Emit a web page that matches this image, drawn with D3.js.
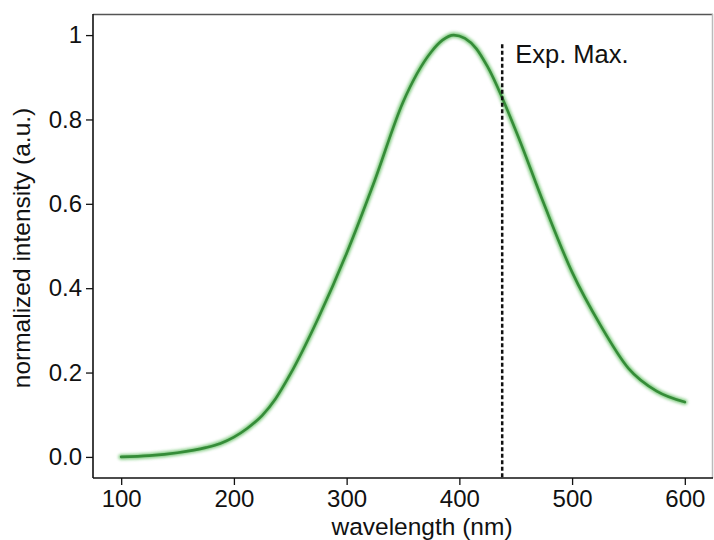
<!DOCTYPE html>
<html>
<head>
<meta charset="utf-8">
<script src="https://cdn.jsdelivr.net/npm/d3@7"></script>
<style>
  body { margin: 0; background: #fff; }
  text { font-family: "Liberation Sans", Arial, Helvetica, sans-serif; fill: #111; }
</style>
</head>
<body>
<div id="chart"></div>
<script>
// values
const wavelength = [100, 125, 150, 175, 188, 200, 212, 225, 237, 250, 275, 300, 325, 350, 375, 385, 395, 405, 415, 425, 450, 475, 500, 525, 550, 575, 600];
const intensity  = [0.000, 0.003, 0.010, 0.022, 0.032, 0.047, 0.068, 0.098, 0.138, 0.196, 0.330, 0.483, 0.656, 0.841, 0.960, 0.988, 1.000, 0.992, 0.968, 0.925, 0.774, 0.600, 0.438, 0.313, 0.210, 0.156, 0.130];
const xTicks = [100, 200, 300, 400, 500, 600];
const yTicks = [0, 0.2, 0.4, 0.6, 0.8, 1];
const yTickLabels = ['0.0', '0.2', '0.4', '0.6', '0.8', '1'];
const expMax = 438;

const W = 714, H = 540;
const margin = { top: 14, right: 1, bottom: 62, left: 93 };
const width = W - margin.left - margin.right;
const height = H - margin.top - margin.bottom;

const svg = d3.select('#chart')
  .append('svg')
  .attr('width', W)
  .attr('height', H);

const defs = svg.append('defs');
defs.append('filter')
  .attr('id', 'glow')
  .attr('x', '-10%').attr('y', '-10%')
  .attr('width', '120%').attr('height', '120%')
  .append('feGaussianBlur')
  .attr('stdDeviation', 1.6);

const g = svg.append('g')
  .attr('transform', 'translate(' + margin.left + ',' + margin.top + ')');

const x = d3.scaleLinear().domain([75, 625]).range([0, width]);
const y = d3.scaleLinear().domain([-0.05, 1.05]).range([height, 0]);

const data = wavelength.map((w, i) => ({ w: w, v: intensity[i] }));

// frame: light top/right, dark left/bottom
g.append('line').attr('x1', 0).attr('x2', width).attr('y1', 0.5).attr('y2', 0.5)
  .attr('stroke', '#555').attr('stroke-width', 1.5);
g.append('line').attr('x1', width - 0.5).attr('x2', width - 0.5).attr('y1', 0).attr('y2', height)
  .attr('stroke', '#bbb').attr('stroke-width', 1.5);

const line = d3.line()
  .x(d => x(d.w))
  .y(d => y(d.v))
  .curve(d3.curveMonotoneX);

g.append('path')
  .datum(data)
  .attr('d', line)
  .attr('fill', 'none')
  .attr('stroke', '#6cc36c')
  .attr('stroke-width', 5.5)
  .attr('stroke-linecap', 'round')
  .attr('filter', 'url(#glow)')
  .style('opacity', 0.85);

g.append('path')
  .datum(data)
  .attr('d', line)
  .attr('fill', 'none')
  .attr('stroke', '#358c38')
  .attr('stroke-width', 2.6)
  .attr('stroke-linecap', 'round');

// experimental maximum
g.append('line')
  .attr('x1', x(expMax)).attr('x2', x(expMax))
  .attr('y1', y(0.978)).attr('y2', height)
  .attr('stroke', '#111')
  .attr('stroke-width', 2.5)
  .attr('stroke-dasharray', '4,2.5');

g.append('text')
  .attr('x', x(expMax) + 13)
  .attr('y', y(0.978) + 19)
  .style('font-size', '25.5px')
  .text('Exp. Max.');

const xAxis = g.append('g')
  .attr('transform', 'translate(0,' + height + ')')
  .call(d3.axisBottom(x).tickValues(xTicks).tickSize(7).tickPadding(5).tickFormat(d3.format('d')));

const yAxis = g.append('g')
  .call(d3.axisLeft(y).tickValues(yTicks).tickSize(7).tickPadding(4).tickFormat((d, i) => yTickLabels[i]));

[xAxis, yAxis].forEach(a => {
  a.select('.domain').attr('stroke', '#111').attr('stroke-width', 1.6);
  a.selectAll('.tick line').attr('stroke', '#111').attr('stroke-width', 1.3);
  a.selectAll('.tick text')
    .style('font-size', '24px')
    .style('font-family', '"Liberation Sans", Arial, sans-serif')
    .attr('fill', '#111');
});
xAxis.select('.domain').attr('d', 'M0,0H' + width);
yAxis.select('.domain').attr('d', 'M0,0V' + height);

svg.append('text')
  .attr('x', 422)
  .attr('y', 535)
  .attr('text-anchor', 'middle')
  .style('font-size', '24.5px')
  .text('wavelength (nm)');

svg.append('text')
  .attr('transform', 'translate(30,248) rotate(-90)')
  .attr('text-anchor', 'middle')
  .style('font-size', '24.5px')
  .text('normalized intensity (a.u.)');
</script>
</body>
</html>
